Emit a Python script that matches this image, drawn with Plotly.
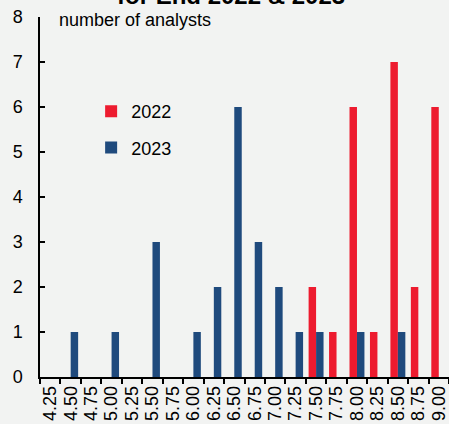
import plotly.graph_objects as go

categories = ["4.25", "4.50", "4.75", "5.00", "5.25", "5.50", "5.75", "6.00", "6.25", "6.50",
              "6.75", "7.00", "7.25", "7.50", "7.75", "8.00", "8.25", "8.50", "8.75", "9.00"]
analysts_2022 = [0, 0, 0, 0, 0, 0, 0, 0, 0, 0, 0, 0, 0, 2, 1, 6, 1, 7, 2, 6]
analysts_2023 = [0, 1, 0, 1, 0, 3, 0, 1, 2, 6, 3, 2, 1, 1, 0, 1, 0, 1, 0, 0]
y_ticks = [0, 1, 2, 3, 4, 5, 6, 7, 8]

RED = "#ed1b2f"
BLUE = "#1f4a7d"
BG = "#f2f3f2"
FONT = "Liberation Sans, Arial, sans-serif"

fig = go.Figure()
fig.add_trace(go.Bar(x=categories, y=analysts_2022, name="2022", legendgroup="a",
                     marker=dict(color=RED, line=dict(width=0))))
fig.add_trace(go.Bar(x=categories, y=analysts_2023, name="2023", legendgroup="b",
                     marker=dict(color=BLUE, line=dict(width=0))))

fig.update_layout(
    width=449, height=424,
    margin=dict(l=40, r=0, t=17, b=47),
    paper_bgcolor=BG, plot_bgcolor=BG,
    font=dict(family=FONT, size=18, color="#000000"),
    barmode="group", bargap=0.27, bargroupgap=0,
    showlegend=True,
    legend=dict(x=0.125, y=0.789, xanchor="left", yanchor="top",
                bgcolor="rgba(0,0,0,0)", font=dict(size=18, family=FONT),
                tracegroupgap=10, traceorder="grouped", itemwidth=30),
    xaxis=dict(type="category", tickson="boundaries", ticks="outside", ticklen=5,
               tickwidth=1.5, tickcolor="#000", showline=True, linecolor="#000",
               linewidth=1.5, tickangle=-90, tickfont=dict(size=18, family=FONT),
               tickmode="array", tickvals=categories, ticktext=categories,
               showgrid=False, zeroline=False),
    yaxis=dict(range=[0, 8], tickvals=y_ticks, ticks="inside", ticklen=5, tickwidth=1.5,
               tickcolor="#000", showline=True, linecolor="#000", linewidth=1.5,
               showgrid=False, zeroline=False, tickfont=dict(size=18, family=FONT),
               ticklabelstandoff=12),
    annotations=[
        dict(text="number of analysts", xref="paper", yref="paper", x=0.042, y=1.0,
             xanchor="left", yanchor="middle", yshift=-3, showarrow=False,
             font=dict(size=18, family=FONT)),
        dict(text="<b>for End 2022 & 2023</b>", xref="paper", yref="paper", x=0.468, y=1.0,
             xanchor="center", yanchor="bottom", yshift=6, showarrow=False,
             font=dict(size=24, family=FONT)),
    ],
)

fig.write_html("out.html", config={"displayModeBar": False},
               post_script="document.body.style.margin='0';document.body.style.overflow='hidden';")
